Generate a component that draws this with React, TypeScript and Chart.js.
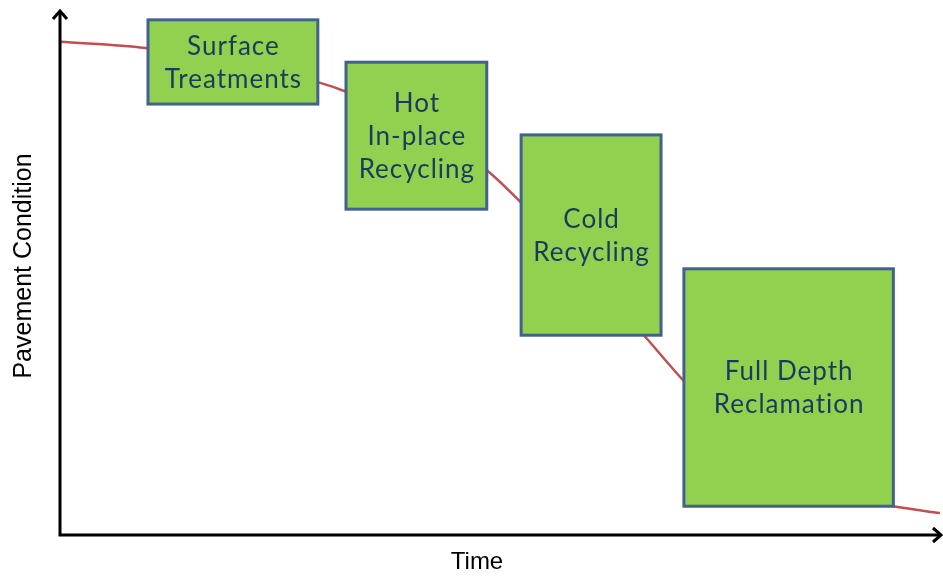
import React, { useEffect, useRef } from "react";
import { Chart, registerables } from "chart.js";

Chart.register(...registerables);

// Pavement condition curve (time 0..100, condition 0..100)
const timeValues = [0, 9.7, 19.3, 29.3, 32.6, 40.7, 48.6, 52.3, 59.4, 66.5, 70.8, 76.1, 83.0, 89.8, 94.7, 100];
const conditionValues = [94.3, 93.1, 90.3, 86.6, 84.7, 78.4, 69.6, 63.7, 51.1, 37.9, 29.6, 20.5, 12.4, 7.3, 5.5, 4.2];

// Treatment boxes (in data units)
const boxLabels = [
  ["Surface", "Treatments"],
  ["Hot", "In-place", "Recycling"],
  ["Cold", "Recycling"],
  ["Full Depth", "Reclamation"],
];
const boxXStart = [10.0, 32.5, 52.4, 70.9];
const boxXEnd = [29.3, 48.5, 68.3, 94.7];
const boxYTop = [98.5, 90.4, 76.5, 50.9];
const boxYBottom = [82.4, 62.3, 38.2, 5.5];

const xTitle = "Time";
const yTitle = "Pavement Condition";

const overlayPlugin = {
  id: "overlay",
  afterDatasetsDraw(chart: any) {
    const ctx = chart.ctx;
    const xs = chart.scales.x;
    const ys = chart.scales.y;
    ctx.save();
    for (let i = 0; i < boxLabels.length; i++) {
      const x0 = xs.getPixelForValue(boxXStart[i]);
      const x1 = xs.getPixelForValue(boxXEnd[i]);
      const y0 = ys.getPixelForValue(boxYTop[i]);
      const y1 = ys.getPixelForValue(boxYBottom[i]);
      ctx.fillStyle = "#92D050";
      ctx.fillRect(x0, y0, x1 - x0, y1 - y0);
      ctx.strokeStyle = "#41618F";
      ctx.lineWidth = 3;
      ctx.strokeRect(x0, y0, x1 - x0, y1 - y0);
      const lines = boxLabels[i];
      const lh = 33;
      const cx = (x0 + x1) / 2;
      const cy = (y0 + y1) / 2;
      ctx.fillStyle = "#1B3A5E";
      ctx.font = "26px Lato, 'Open Sans', sans-serif";
      try { (ctx as any).letterSpacing = "1px"; } catch (e) {}
      ctx.textAlign = "center";
      ctx.textBaseline = "middle";
      lines.forEach((t: string, k: number) => {
        ctx.fillText(t, cx + 0.5, cy + 1 + (k - (lines.length - 1) / 2) * lh);
      });
      try { (ctx as any).letterSpacing = "0px"; } catch (e) {}
    }
    ctx.restore();
  },
  afterDraw(chart: any) {
    const ctx = chart.ctx;
    const a = chart.chartArea;
    ctx.save();
    ctx.strokeStyle = "#000";
    ctx.lineWidth = 3;
    ctx.lineCap = "butt";
    // axes
    ctx.beginPath();
    ctx.moveTo(a.left, a.top - 1);
    ctx.lineTo(a.left, a.bottom);
    ctx.lineTo(a.right + 1, a.bottom);
    ctx.stroke();
    // arrowheads
    ctx.lineJoin = "miter";
    ctx.beginPath();
    ctx.moveTo(a.left - 7, a.top + 7);
    ctx.lineTo(a.left, a.top - 1);
    ctx.lineTo(a.left + 7, a.top + 7);
    ctx.stroke();
    ctx.beginPath();
    ctx.moveTo(a.right - 7, a.bottom - 7);
    ctx.lineTo(a.right + 1, a.bottom);
    ctx.lineTo(a.right - 7, a.bottom + 7);
    ctx.stroke();
    // titles
    ctx.fillStyle = "#000";
    ctx.font = "24px 'Liberation Sans', Arial, sans-serif";
    ctx.textAlign = "center";
    ctx.textBaseline = "middle";
    ctx.fillText(xTitle, 477, 562);
    ctx.font = "25px 'Liberation Sans', Arial, sans-serif";
    ctx.translate(24, 266);
    ctx.rotate(-Math.PI / 2);
    ctx.fillText(yTitle, 0, 0);
    ctx.restore();
  },
};

export default function App() {
  const ref = useRef<HTMLCanvasElement>(null);
  useEffect(() => {
    if (!ref.current) return;
    const chart = new Chart(ref.current, {
      type: "line",
      data: {
        datasets: [
          {
            data: timeValues.map((t, i) => ({ x: t, y: conditionValues[i] })),
            borderColor: "#C0504D",
            borderWidth: 2.5,
            pointRadius: 0,
            cubicInterpolationMode: "monotone",
            fill: false,
          },
        ],
      },
      options: {
        responsive: false,
        animation: false,
        layout: { padding: { left: 60, right: 3, top: 12, bottom: 42 } },
        plugins: { legend: { display: false }, tooltip: { enabled: false } },
        scales: {
          x: { type: "linear", min: 0, max: 100, display: false },
          y: { type: "linear", min: 0, max: 100, display: false },
        },
      },
      plugins: [overlayPlugin],
    });
    return () => chart.destroy();
  }, []);
  return (
    <div style={{ position: "absolute", left: 0, top: 0, width: 943, height: 577, background: "#fff" }}>
      <canvas ref={ref} width={943} height={577} />
    </div>
  );
}
